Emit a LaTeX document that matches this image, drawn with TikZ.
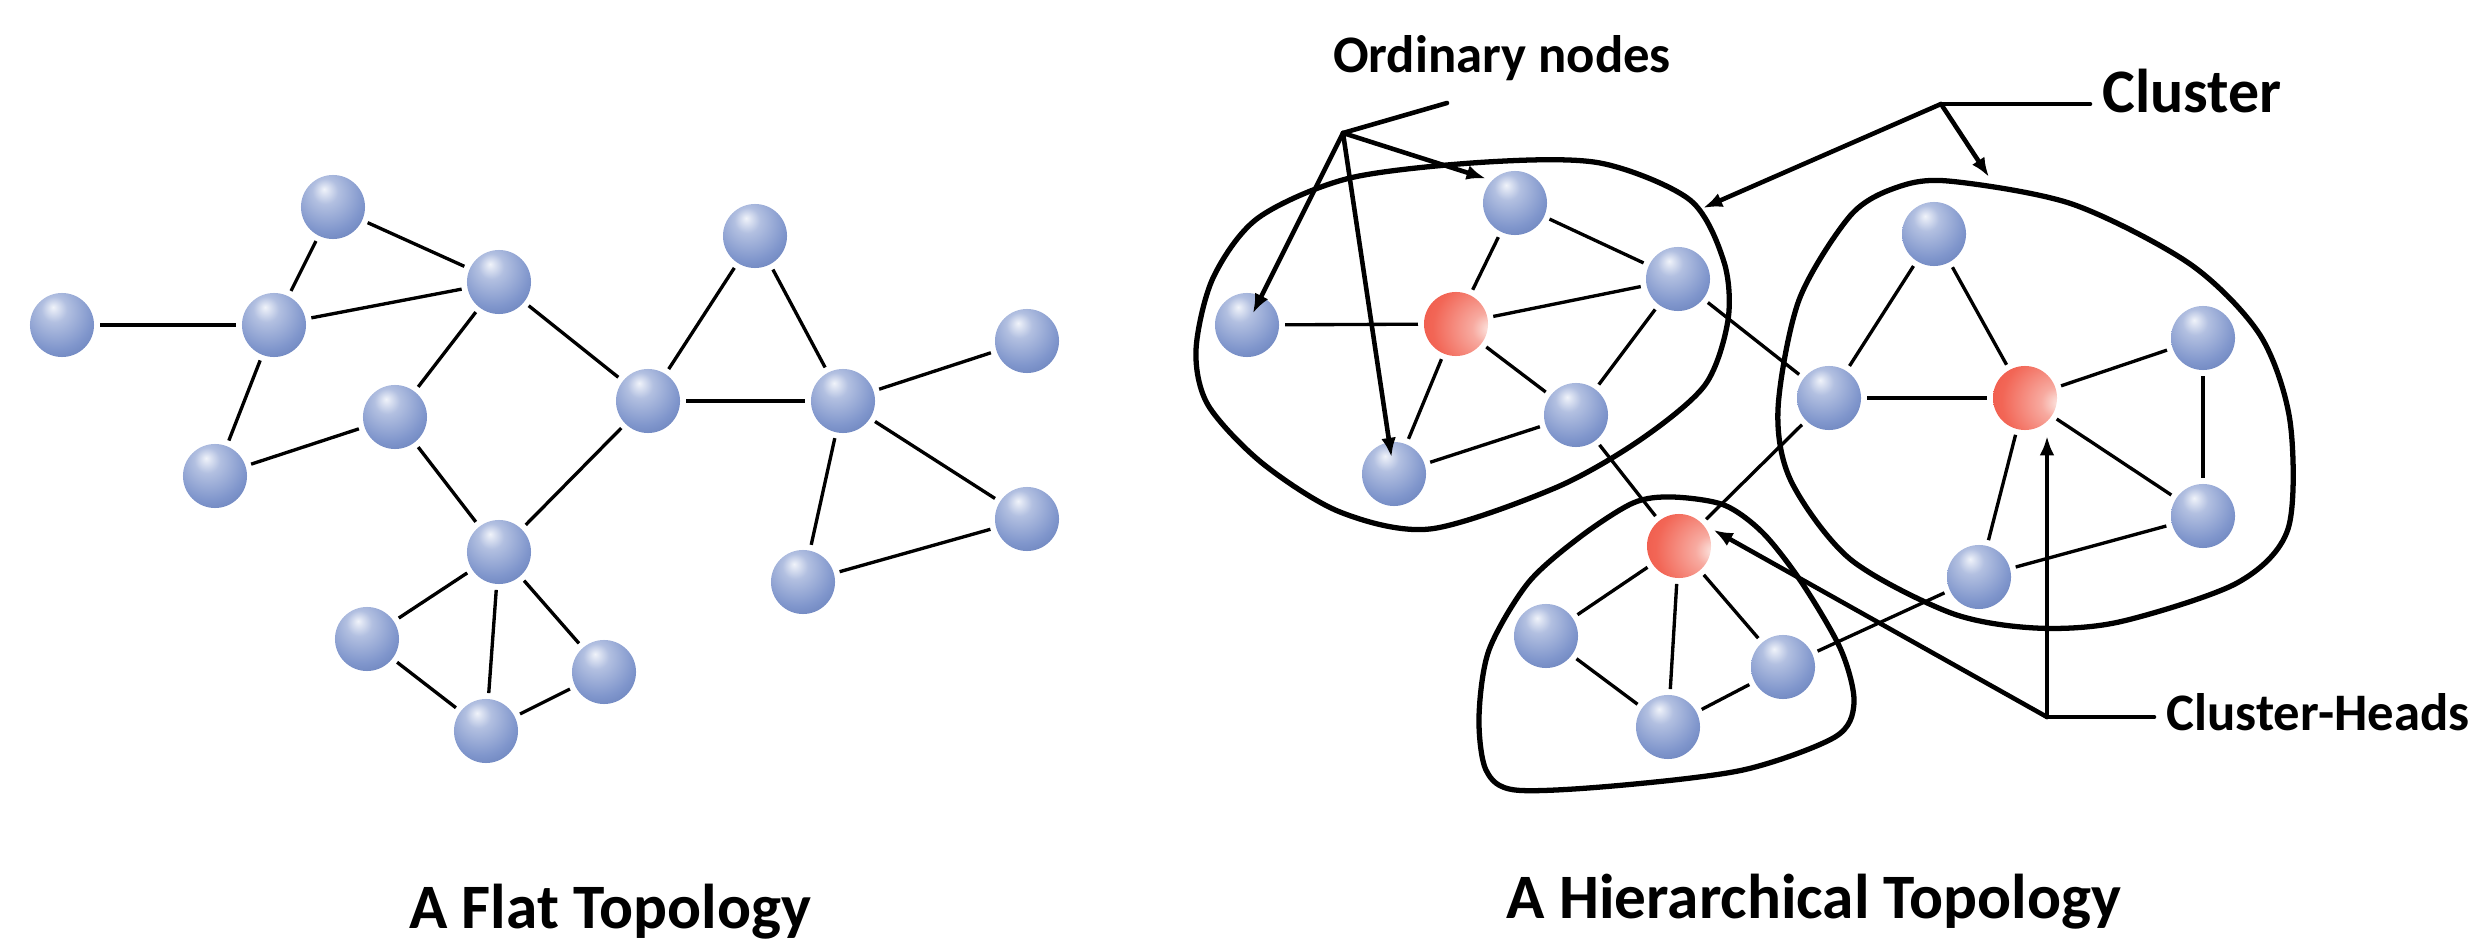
\documentclass[tikz,border=0pt]{standalone}
\usepackage{fontspec}
\setmainfont{Carlito}
\usetikzlibrary{arrows.meta}
\definecolor{ballhi}{RGB}{240,243,250}
\definecolor{ballmid}{RGB}{128,150,204}
\definecolor{balledge}{RGB}{78,104,166}
\definecolor{redhi}{RGB}{253,238,234}
\definecolor{redmid}{RGB}{242,102,86}
\definecolor{rededge}{RGB}{236,70,55}
\pgfdeclareradialshading{blueball}{\pgfpoint{-7bp}{14bp}}{color(0bp)=(ballhi); color(10bp)=(ballmid!55!ballhi); color(28bp)=(ballmid); color(52bp)=(balledge); color(80bp)=(balledge)}
\pgfdeclareradialshading{redball}{\pgfpoint{28bp}{-4bp}}{color(0bp)=(redhi); color(12bp)=(redmid!50!redhi); color(36bp)=(redmid); color(66bp)=(rededge); color(100bp)=(rededge)}
\tikzset{
  ball/.style={circle, inner sep=0pt, minimum size=0.64cm, outer sep=0.06cm, shading=blueball},
  hub/.style={ball, shading=redball},
  link/.style={line width=0.95pt},
  ring/.style={line width=1.5pt},
  pointer/.style={line width=1.3pt, line cap=round},
  lbl/.style={font=\bfseries\fontsize{15}{18}\selectfont},
  biglbl/.style={font=\bfseries\fontsize{17.6}{21}\selectfont},
  caption/.style={font=\bfseries\fontsize{18}{22}\selectfont}
}
\begin{document}
\begin{tikzpicture}[>={Latex[length=5.5pt,width=4.2pt]}, x=0.01cm, y=-0.01cm]
    \useasboundingbox (0,0) rectangle (2472,943);
    % Mô hình phẳng
    \foreach \n/\x/\y in {fa/62/325, fb/274/325, fc/333/207, fd/499/282, fe/395/417,
        ff/215/476, fg/648/401, fh/755/236, fi/843/401, fj/1027/341, fk/1027/519,
        fl/803/582, fm/499/552, fn/367/639, fo/604/672, fp/486/731}
        \node[ball] (\n) at (\x,\y) {};
    \foreach \u/\v in {fa/fb, fb/fc, fc/fd, fb/fd, fb/ff, ff/fe, fe/fd, fd/fg, fg/fh,
        fh/fi, fg/fi, fi/fj, fi/fk, fi/fl, fk/fl, fe/fm, fg/fm, fm/fn, fm/fp, fm/fo,
        fn/fp, fo/fp}
        \draw[link] (\u) -- (\v);
    % Mô hình phân cấp
    \foreach \n/\x/\y in {a1/1247/325, a2/1515/203, a3/1678/279, a4/1576/415, a5/1394/474,
        b1/1934/234, b2/1829/398, b3/2203/338, b4/2203/516, b5/1979/577,
        c1/1546/636, c2/1783/667, c3/1668/727}
        \node[ball] (\n) at (\x,\y) {};
    \node[hub] (h1) at (1456,324) {};
    \node[hub] (h2) at (2025,398) {};
    \node[hub] (h3) at (1679,546) {};
    \foreach \u/\v in {a1/h1, h1/a2, h1/a3, h1/a4, h1/a5, a2/a3, a3/a4, a4/a5,
        a3/b2, a4/h3, b2/h3, c2/b5,
        b1/b2, b1/h2, b2/h2, h2/b3, h2/b4, h2/b5, b3/b4, b4/b5,
        h3/c1, h3/c3, h3/c2, c1/c3, c3/c2}
        \draw[link] (\u) -- (\v);
    % Đường bao các cụm
    \draw[ring] plot[smooth cycle] coordinates {(1487,162) (1600,163) (1690,200) (1724,262)
        (1728,320) (1705,385) (1640,440) (1555,488) (1430,529) (1340,512) (1262,463)
        (1208,405) (1196,350) (1213,278) (1258,218) (1350,178)};
    \draw[ring] plot[smooth cycle] coordinates {(1948,181) (2072,204) (2190,264) (2260,335)
        (2290,421) (2288,529) (2237,583) (2119,622) (2035,628) (1951,613) (1850,559)
        (1791,481) (1778,409) (1799,300) (1850,216) (1895,188)};
    \draw[ring] plot[smooth cycle] coordinates {(1672,497) (1724,505) (1763,533) (1802,583)
        (1841,650) (1854,703) (1835,737) (1743,770) (1613,786) (1515,790) (1486,770)
        (1479,717) (1489,650) (1528,583) (1580,537) (1633,503)};
    % Chú thích
    \node[lbl, anchor=base] (ontext) at (1502,73) {Ordinary nodes};
    \coordinate (onv) at (1343,133);
    \coordinate (onend) at (1447,103);
    \draw[pointer] (onend) -- (onv);
    \draw[pointer,->] (onv) -- (a2.140);
    \draw[pointer,->,shorten >=0.13cm] (onv) -- (a1.center);
    \draw[pointer,->,shorten >=0.17cm] (onv) -- (a5.center);
    \node[biglbl, anchor=base west] (cltext) at (2090,113) {Cluster};
    \coordinate (clv) at (1941,104);
    \coordinate (cl1) at (1703,208);
    \coordinate (cl2) at (1989,177);
    \draw[pointer] (clv) -- (clv -| cltext.west);
    \draw[pointer,->] (clv) -- (cl1);
    \draw[pointer,->] (clv) -- (cl2);
    \node[lbl, anchor=base west] (chtext) at (2154,731) {Cluster-Heads};
    \coordinate (chv) at (2047,717);
    \draw[pointer] (chv) -- (chv -| chtext.west);
    \draw[pointer,->] (chv) -- (chv |- h2.south);
    \draw[pointer,->] (chv) -- (h3.25);
    % Tiêu đề
    \node[caption, anchor=base] (flat) at (610,928) {A Flat Topology};
    \node[caption, anchor=base] (hier) at (1814,918) {A Hierarchical Topology};
\end{tikzpicture}
\end{document}
